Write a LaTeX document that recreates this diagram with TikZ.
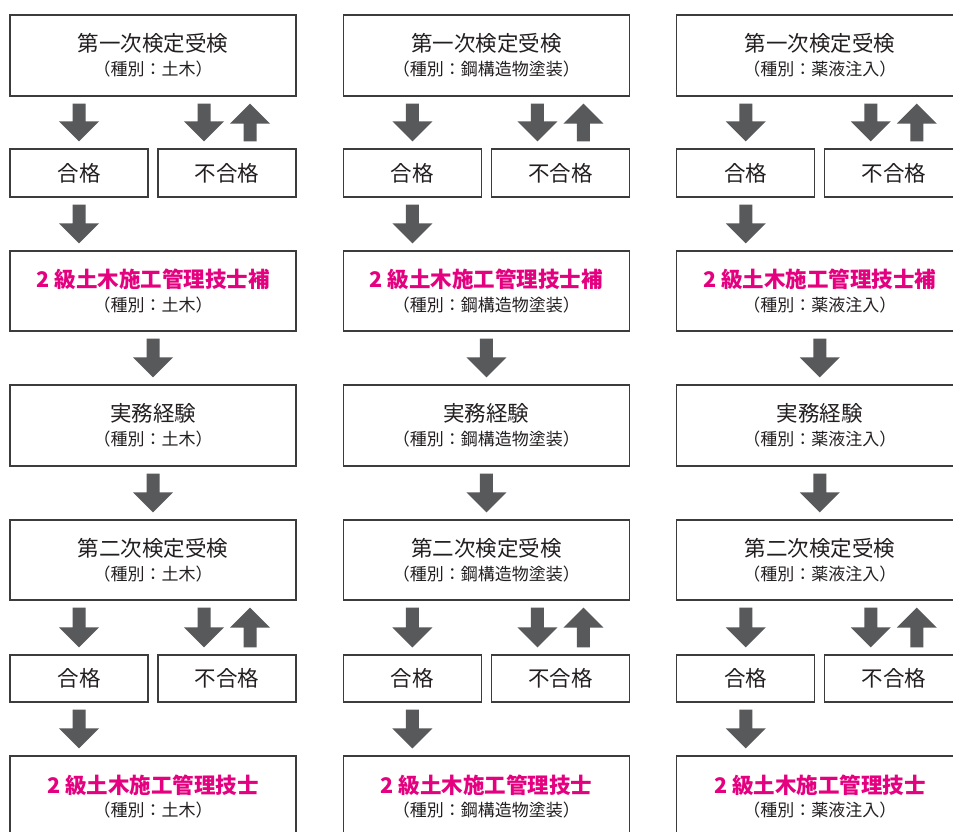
\documentclass[tikz,border=0pt]{standalone}
\usepackage{fontspec}
\newfontfamily\jp{Noto Sans CJK JP}
\usetikzlibrary{calc}
\definecolor{boxline}{HTML}{3C3C3C}
\definecolor{arrowcol}{HTML}{58595B}
\definecolor{txt}{HTML}{231F20}
\definecolor{mag}{HTML}{E4007F}
% down block arrow: #1 upper anchor, #2 lower anchor (x taken from #2)
\newcommand\blkdown[2]{\fill[arrowcol] let \p1=(#1), \p2=(#2) in
 (\x2-6.5pt,\y1-7pt) -- (\x2+6.5pt,\y1-7pt) -- (\x2+6.5pt,\y2+27pt) -- (\x2+20pt,\y2+27pt)
 -- (\x2,\y2+7pt) -- (\x2-20pt,\y2+27pt) -- (\x2-6.5pt,\y2+27pt) -- cycle;}
% up block arrow: #1 lower anchor (x taken from #1), #2 upper anchor
\newcommand\blkup[2]{\fill[arrowcol] let \p1=(#1), \p2=(#2) in
 (\x1-6.5pt,\y1+7pt) -- (\x1+6.5pt,\y1+7pt) -- (\x1+6.5pt,\y2-27pt) -- (\x1+20pt,\y2-27pt)
 -- (\x1,\y2-7pt) -- (\x1-20pt,\y2-27pt) -- (\x1-6.5pt,\y2-27pt) -- cycle;}
\tikzset{
  bigbox/.style={draw=boxline, line width=1.2pt, fill=white, minimum width=286pt, minimum height=81pt, inner sep=0pt},
  smallbox/.style={draw=boxline, line width=1.2pt, fill=white, minimum width=138pt, minimum height=48pt, inner sep=0pt,
    font=\jp\fontsize{21.5}{24}\selectfont, text=txt},
  maintxt/.style={font=\jp\fontsize{21.5}{24}\selectfont, text=txt, inner sep=0pt},
  subtxt/.style={font=\jp\fontsize{17}{19}\selectfont, text=txt, inner sep=0pt},
  magtxt/.style={font=\jp\bfseries\fontsize{21.5}{24}\selectfont, text=mag, inner sep=0pt},
}
\begin{document}
\begin{tikzpicture}[x=1pt,y=-1pt]
\useasboundingbox (0,0) rectangle (953,832);
\fill[white] (0,0) rectangle (953,832);
\clip (0,0) rectangle (953,832);
\foreach \c/\ty in {0/土木,1/鋼構造物塗装,2/薬液注入}{
  \pgfmathsetmacro\ox{153+333.4*\c}
  % boxes
  \node[bigbox] (c\c-a) at (\ox,55.5) {};
  \node[smallbox] (c\c-p1) at (\ox-74,173) {合格};
  \node[smallbox] (c\c-f1) at (\ox+74,173) {不合格};
  \node[bigbox, minimum height=80pt] (c\c-b) at (\ox,291) {};
  \node[bigbox] (c\c-k) at (\ox,425.5) {};
  \node[bigbox, minimum height=80pt] (c\c-d) at (\ox,560) {};
  \node[smallbox, minimum height=47pt] (c\c-p2) at (\ox-74,678.5) {合格};
  \node[smallbox, minimum height=47pt] (c\c-f2) at (\ox+74,678.5) {不合格};
  \node[bigbox] (c\c-e) at (\ox,796.5) {};
  % texts
  \node[maintxt] (c\c-at) at ([yshift=-29pt]c\c-a.north) {第一次検定受検};
  \node[subtxt]  (c\c-as) at ([yshift=-55pt]c\c-a.north) {（種別：\ty）};
  \node[magtxt]  (c\c-bt) at ([yshift=-28.5pt]c\c-b.north) {2 級土木施工管理技士補};
  \node[subtxt]  (c\c-bs) at ([yshift=-54.5pt]c\c-b.north) {（種別：\ty）};
  \node[maintxt] (c\c-kt) at ([yshift=-28.5pt]c\c-k.north) {実務経験};
  \node[subtxt]  (c\c-ks) at ([yshift=-54.5pt]c\c-k.north) {（種別：\ty）};
  \node[maintxt] (c\c-dt) at ([yshift=-28.5pt]c\c-d.north) {第二次検定受検};
  \node[subtxt]  (c\c-ds) at ([yshift=-54.5pt]c\c-d.north) {（種別：\ty）};
  \node[magtxt]  (c\c-et) at ([yshift=-29.5pt]c\c-e.north) {2 級土木施工管理技士};
  \node[subtxt]  (c\c-es) at ([yshift=-55pt]c\c-e.north) {（種別：\ty）};
  % helper coordinates for fail arrows
  \coordinate (c\c-fd1) at ([xshift=-23pt]c\c-f1.north);
  \coordinate (c\c-fu1) at ([xshift=23pt]c\c-f1.north);
  \coordinate (c\c-fd2) at ([xshift=-23pt]c\c-f2.north);
  \coordinate (c\c-fu2) at ([xshift=23pt]c\c-f2.north);
  % arrows
  \blkdown{c\c-a.south}{c\c-p1.north}
  \blkdown{c\c-a.south}{c\c-fd1}
  \blkup{c\c-fu1}{c\c-a.south}
  \blkdown{c\c-p1.south}{c\c-b.north -| c\c-p1.south}
  \blkdown{c\c-b.south}{c\c-k.north}
  \blkdown{c\c-k.south}{c\c-d.north}
  \blkdown{c\c-d.south}{c\c-p2.north}
  \blkdown{c\c-d.south}{c\c-fd2}
  \blkup{c\c-fu2}{c\c-d.south}
  \blkdown{c\c-p2.south}{c\c-e.north -| c\c-p2.south}
}
\end{tikzpicture}
\end{document}
